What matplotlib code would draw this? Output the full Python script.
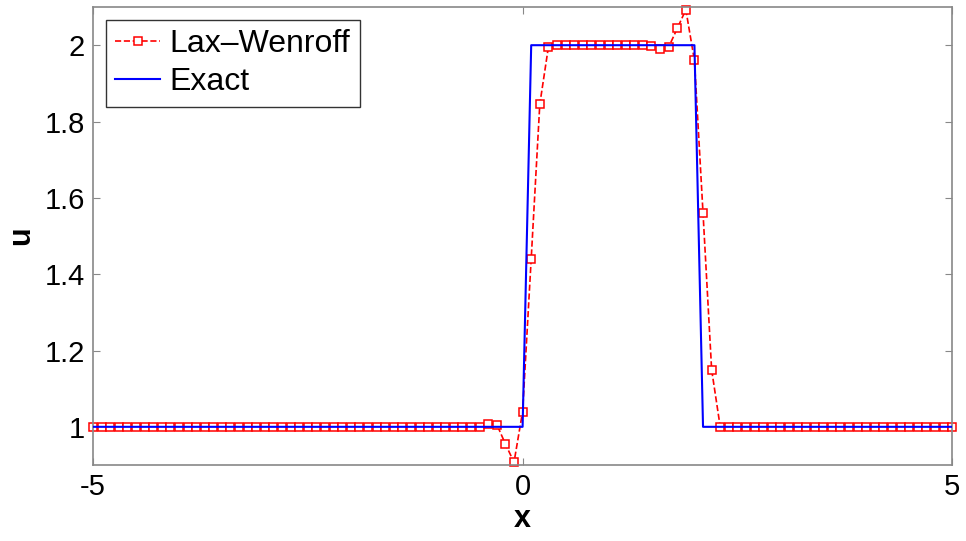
import numpy as np
import matplotlib.pyplot as plt

plt.rcParams['font.family'] = 'Liberation Sans'
plt.rcParams['axes.unicode_minus'] = False

# grid points, dx = 0.1
x = np.round(np.arange(-5.0, 5.0001, 0.1), 1)

# Lax-Wendroff solution
u_lw = ([1.0] * 46
        + [1.008, 1.006, 0.955, 0.907]
        + [1.04, 1.44, 1.845, 1.995]
        + [2.0] * 11
        + [1.997, 1.99, 1.995, 2.044, 2.093, 1.96]
        + [1.56, 1.15]
        + [1.0] * 28)

# exact solution
u_exact = [1.0] * 51 + [2.0] * 20 + [1.0] * 30

xticks = [-5, 0, 5]
yticks = [1, 1.2, 1.4, 1.6, 1.8, 2]
yticklabels = ['1', '1.2', '1.4', '1.6', '1.8', '2']

fig = plt.figure(figsize=(9.66, 5.41), dpi=100)
ax = fig.add_axes([0.0963, 0.1405, 0.8894, 0.8465])

ax.plot(x, u_lw, color='red', linestyle='--', linewidth=1.2, marker='s',
        markersize=5.5, markerfacecolor='white', markeredgecolor='red',
        markeredgewidth=1.1, label='Lax\u2013Wenroff', clip_on=False,
        zorder=2)
ax.plot(x, u_exact, color='blue', linewidth=1.5, label='Exact', zorder=3)

ax.set_xlim(-5, 5)
ax.set_ylim(0.9, 2.1)
ax.set_xticks(xticks)
ax.set_xticklabels([str(t) for t in xticks])
ax.set_yticks(yticks)
ax.set_yticklabels(yticklabels)
ax.tick_params(direction='in', length=5, width=0.8, color='#888888',
               labelsize=21, top=True, right=True, pad=6)
for s in ax.spines.values():
    s.set_color('#888888')
    s.set_linewidth(1.2)

ax.set_xlabel('x', fontsize=22, fontweight='bold', labelpad=2)
ax.set_ylabel('u', fontsize=22, fontweight='bold', labelpad=6)

leg = ax.legend(loc='upper left', fontsize=23, handlelength=1.4,
                handletextpad=0.3, borderpad=0.3, labelspacing=0.25,
                fancybox=False, framealpha=1, borderaxespad=0.4)
leg.set_zorder(5)
leg.get_frame().set_edgecolor('#333333')
leg.get_frame().set_linewidth(1.0)

fig.savefig('out.png')
